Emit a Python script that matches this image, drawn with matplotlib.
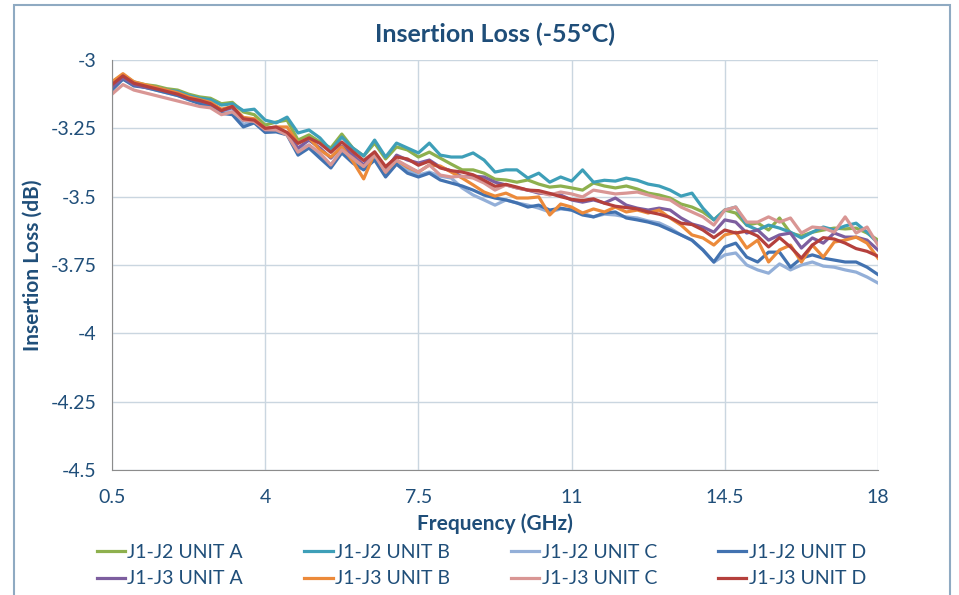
#libs
import matplotlib
matplotlib.use("Agg")
import matplotlib.pyplot as plt
import numpy as np
from matplotlib.patches import Rectangle

plt.rcParams['font.family'] = ['Lato', 'DejaVu Sans']

#data, 0.5 to 18 GHz in 0.25 GHz steps
freq = np.linspace(0.5, 18, 71)

j1j2_a = [-3.080, -3.055, -3.080, -3.090, -3.095, -3.105, -3.110, -3.125, -3.135, -3.140, -3.160, -3.155, -3.190, -3.200, -3.238,
          -3.227, -3.220, -3.293, -3.274, -3.300, -3.322, -3.271, -3.322, -3.351, -3.304,
          -3.362, -3.318, -3.329, -3.355, -3.337, -3.359, -3.381, -3.402, -3.402, -3.414,
          -3.436, -3.439, -3.447, -3.439, -3.454, -3.465, -3.461, -3.468, -3.476, -3.450,
          -3.461, -3.468, -3.461, -3.472, -3.487, -3.494, -3.505, -3.527, -3.538, -3.556,
          -3.585, -3.549, -3.560, -3.604, -3.596, -3.622, -3.578, -3.633, -3.644, -3.630,
          -3.622, -3.615, -3.618, -3.615, -3.633, -3.659]
j1j2_b = [-3.090, -3.060, -3.085, -3.095, -3.100, -3.110, -3.115, -3.130, -3.140, -3.145, -3.165, -3.160, -3.185, -3.180, -3.220,
          -3.230, -3.209, -3.267, -3.256, -3.285, -3.330, -3.282, -3.322, -3.351, -3.293,
          -3.355, -3.304, -3.322, -3.340, -3.304, -3.348, -3.355, -3.355, -3.340, -3.366,
          -3.410, -3.402, -3.402, -3.432, -3.414, -3.447, -3.428, -3.443, -3.402, -3.447,
          -3.440, -3.443, -3.432, -3.440, -3.454, -3.461, -3.476, -3.498, -3.487, -3.542,
          -3.585, -3.549, -3.538, -3.604, -3.622, -3.604, -3.615, -3.630, -3.651, -3.630,
          -3.611, -3.622, -3.607, -3.597, -3.630, -3.670]
j1j2_c = [-3.100, -3.070, -3.090, -3.100, -3.110, -3.120, -3.130, -3.145, -3.155, -3.165, -3.190, -3.190, -3.235, -3.225, -3.260,
          -3.256, -3.267, -3.329, -3.311, -3.348, -3.384, -3.329, -3.366, -3.395, -3.355,
          -3.414, -3.377, -3.402, -3.421, -3.410, -3.425, -3.432, -3.468, -3.494, -3.512,
          -3.531, -3.512, -3.523, -3.531, -3.542, -3.556, -3.545, -3.549, -3.560, -3.574,
          -3.564, -3.567, -3.574, -3.578, -3.589, -3.596, -3.615, -3.640, -3.660, -3.695,
          -3.740, -3.713, -3.706, -3.750, -3.768, -3.780, -3.746, -3.768, -3.750, -3.739,
          -3.754, -3.758, -3.768, -3.776, -3.794, -3.816]
j1j2_d = [-3.110, -3.070, -3.095, -3.100, -3.110, -3.120, -3.130, -3.145, -3.160, -3.170, -3.195, -3.200, -3.245, -3.230, -3.265,
          -3.263, -3.274, -3.348, -3.322, -3.359, -3.395, -3.340, -3.377, -3.402, -3.366,
          -3.428, -3.381, -3.414, -3.428, -3.414, -3.439, -3.450, -3.461, -3.476, -3.494,
          -3.505, -3.512, -3.523, -3.538, -3.531, -3.549, -3.542, -3.549, -3.567, -3.574,
          -3.560, -3.556, -3.578, -3.585, -3.593, -3.604, -3.622, -3.640, -3.659, -3.695,
          -3.739, -3.684, -3.670, -3.721, -3.739, -3.703, -3.703, -3.758, -3.725, -3.713,
          -3.725, -3.732, -3.739, -3.739, -3.758, -3.785]
j1j3_a = [-3.100, -3.065, -3.090, -3.100, -3.105, -3.115, -3.125, -3.140, -3.150, -3.160, -3.185, -3.175, -3.220, -3.220, -3.255,
          -3.252, -3.267, -3.322, -3.293, -3.322, -3.359, -3.315, -3.348, -3.384, -3.337,
          -3.402, -3.348, -3.366, -3.377, -3.366, -3.392, -3.406, -3.428, -3.425, -3.428,
          -3.447, -3.457, -3.468, -3.476, -3.487, -3.490, -3.494, -3.512, -3.520, -3.512,
          -3.523, -3.505, -3.531, -3.542, -3.549, -3.542, -3.549, -3.578, -3.600, -3.611,
          -3.630, -3.585, -3.593, -3.633, -3.622, -3.659, -3.640, -3.633, -3.688, -3.651,
          -3.670, -3.633, -3.648, -3.648, -3.659, -3.695]
j1j3_b = [-3.080, -3.050, -3.080, -3.090, -3.100, -3.110, -3.120, -3.135, -3.145, -3.155, -3.180, -3.170, -3.210, -3.215, -3.250,
          -3.245, -3.245, -3.304, -3.285, -3.329, -3.355, -3.318, -3.370, -3.435, -3.340,
          -3.410, -3.366, -3.392, -3.410, -3.384, -3.388, -3.410, -3.432, -3.457, -3.483,
          -3.498, -3.487, -3.505, -3.505, -3.501, -3.567, -3.527, -3.538, -3.560, -3.545,
          -3.556, -3.538, -3.556, -3.549, -3.560, -3.549, -3.578, -3.604, -3.640, -3.651,
          -3.677, -3.640, -3.630, -3.688, -3.659, -3.739, -3.695, -3.677, -3.739, -3.677,
          -3.721, -3.666, -3.659, -3.648, -3.670, -3.725]
j1j3_c = [-3.125, -3.090, -3.110, -3.120, -3.130, -3.140, -3.150, -3.160, -3.170, -3.175, -3.200, -3.190, -3.220, -3.225, -3.255,
          -3.256, -3.274, -3.337, -3.311, -3.340, -3.384, -3.329, -3.359, -3.390, -3.348,
          -3.410, -3.366, -3.388, -3.410, -3.384, -3.421, -3.428, -3.425, -3.432, -3.450,
          -3.476, -3.457, -3.468, -3.476, -3.483, -3.494, -3.483, -3.490, -3.501, -3.476,
          -3.483, -3.490, -3.487, -3.483, -3.494, -3.505, -3.512, -3.538, -3.556, -3.574,
          -3.604, -3.549, -3.538, -3.593, -3.593, -3.574, -3.593, -3.578, -3.633, -3.611,
          -3.615, -3.630, -3.574, -3.633, -3.611, -3.677]
j1j3_d = [-3.090, -3.058, -3.085, -3.095, -3.105, -3.115, -3.125, -3.140, -3.148, -3.160, -3.185, -3.170, -3.215, -3.220, -3.250,
          -3.245, -3.265, -3.305, -3.285, -3.305, -3.338, -3.300, -3.335, -3.368, -3.336,
          -3.390, -3.355, -3.362, -3.385, -3.370, -3.395, -3.405, -3.410, -3.420, -3.440,
          -3.462, -3.455, -3.465, -3.476, -3.478, -3.488, -3.500, -3.510, -3.514, -3.508,
          -3.524, -3.535, -3.540, -3.545, -3.556, -3.564, -3.576, -3.597, -3.602, -3.622,
          -3.650, -3.622, -3.633, -3.626, -3.644, -3.684, -3.650, -3.684, -3.725, -3.677,
          -3.650, -3.655, -3.670, -3.690, -3.700, -3.718]

series = [
    ('J1-J2 UNIT A', j1j2_a, '#8EB04E'),
    ('J1-J2 UNIT B', j1j2_b, '#3E9FB8'),
    ('J1-J2 UNIT C', j1j2_c, '#93AFD8'),
    ('J1-J2 UNIT D', j1j2_d, '#4272B0'),
    ('J1-J3 UNIT A', j1j3_a, '#7D5E9F'),
    ('J1-J3 UNIT B', j1j3_b, '#EC8A3A'),
    ('J1-J3 UNIT C', j1j3_c, '#D99694'),
    ('J1-J3 UNIT D', j1j3_d, '#B5403C'),
]

xticks = [0.5, 4, 7.5, 11, 14.5, 18]
yticks = [-3, -3.25, -3.5, -3.75, -4, -4.25, -4.5]
ytick_labels = ['-3', '-3.25', '-3.5', '-3.75', '-4', '-4.25', '-4.5']

txt = '#1F4E79'
grid_col = '#CAD6E0'

#figure
fig = plt.figure(figsize=(9.59, 5.95), dpi=100)
ax = fig.add_axes([112/959, 1-470/595, (878-112)/959, (470-60)/595])

lines = {}
for name, vals, col in series:
    lines[name], = ax.plot(freq, vals, color=col, lw=2.3, label=name, solid_joinstyle='round')

ax.set_xlim(0.5, 18)
ax.set_ylim(-4.5, -3)
ax.set_xticks(xticks)
ax.set_xticklabels(['0.5', '4', '7.5', '11', '14.5', '18'])
ax.set_yticks(yticks)
ax.set_yticklabels(ytick_labels)
ax.tick_params(length=0, labelsize=14, labelcolor=txt)
ax.tick_params(axis='x', pad=14)
ax.tick_params(axis='y', pad=11)
ax.grid(True, color=grid_col, lw=1)
ax.set_axisbelow(True)
for s in ['top', 'right']:
    ax.spines[s].set_visible(False)
ax.spines['left'].set_color('#8C8C8C')
ax.spines['bottom'].set_color('#8C8C8C')

ax.set_title('Insertion Loss (-55°C)', fontsize=18, fontweight='bold', color=txt, pad=13)
ax.set_xlabel('Frequency (GHz)', fontsize=15, fontweight='bold', color=txt, labelpad=5)
ax.set_ylabel('Insertion Loss (dB)', fontsize=15, fontweight='bold', color=txt, labelpad=6)

#legend, column-first order so rows read J1-J2 / J1-J3
order = ['J1-J2 UNIT A', 'J1-J3 UNIT A', 'J1-J2 UNIT B', 'J1-J3 UNIT B',
         'J1-J2 UNIT C', 'J1-J3 UNIT C', 'J1-J2 UNIT D', 'J1-J3 UNIT D']
leg = fig.legend([lines[k] for k in order], order, ncol=4, loc='upper left',
                 bbox_to_anchor=(89/959, 1-536/595), frameon=False, fontsize=14,
                 handlelength=1.45, handletextpad=0.12, columnspacing=3.15,
                 labelspacing=0.5, borderaxespad=0)
for t in leg.get_texts():
    t.set_color(txt)

#outer chart frame
fig.patches.append(Rectangle((14/959, -0.02), (950-14)/959, 1.02-5/595,
                             transform=fig.transFigure, fill=False,
                             edgecolor='#8FAAC2', lw=1.5))

fig.savefig('out.png', dpi=100)
